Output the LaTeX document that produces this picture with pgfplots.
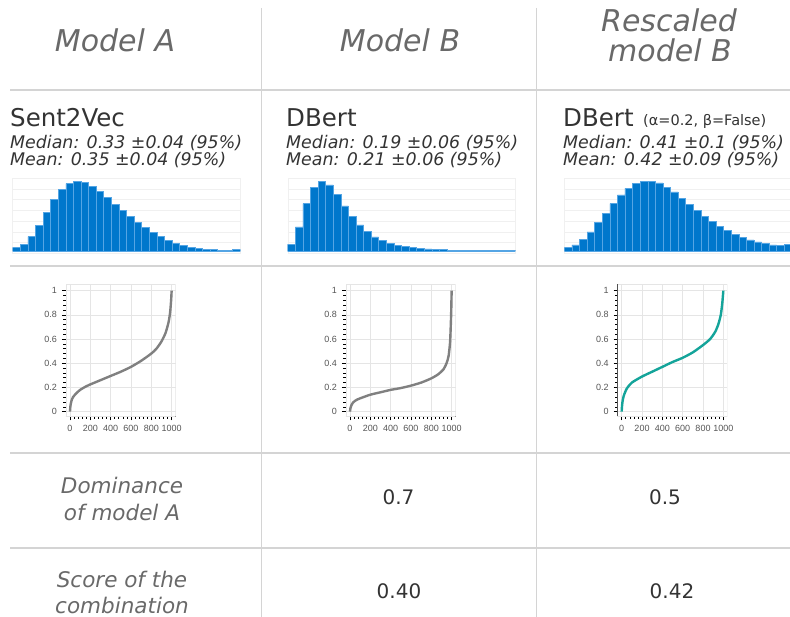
\documentclass[border=0pt]{standalone}
\usepackage{fontspec}
\setmainfont{DejaVu Sans}
\newfontfamily\arialf{Liberation Sans}
\usepackage{pgfplots}
\pgfplotsset{compat=1.18}
\definecolor{linegray}{RGB}{212,212,212}
\definecolor{hdrgray}{RGB}{105,105,105}
\definecolor{txt}{RGB}{51,51,51}
\definecolor{barblue}{RGB}{0,119,204}
\definecolor{baredge}{RGB}{85,165,228}
\definecolor{tealc}{RGB}{20,164,154}
\definecolor{curvegray}{RGB}{128,128,128}
\definecolor{gridc}{RGB}{229,229,229}
\definecolor{hgrid}{RGB}{240,240,240}
\definecolor{labgray}{RGB}{85,85,85}

\pgfplotsset{
  histo/.style={scale only axis, width=227.6pt, height=75pt,
    xmin=0, xmax=30, ymin=-0.033, ymax=1.043,
    axis line style={draw=hgrid},
    xtick=\empty, ytick={0.121,0.275,0.429,0.582,0.736,0.89},
    yticklabels={}, major tick length=0pt, ymajorgrids,
    major grid style={draw=hgrid, line width=0.6pt}},
  hbar/.style={ybar interval, fill=barblue, draw=baredge, line width=0.5pt},
  curve/.style={scale only axis, width=109.8pt, height=132.5pt,
    xmin=-40, xmax=1040, ymin=-0.04, ymax=1.055,
    axis lines*=left, axis line style={black, line width=0.8pt},
    xtick={0,200,...,1000}, ytick={0,0.2,0.4,0.6,0.8,1},
    minor tick num=4, tick align=outside,
    major tick length=4pt, minor tick length=2.5pt,
    tick style={black, line width=0.6pt},
    xmajorgrids, ymajorgrids, major grid style={draw=gridc, line width=0.6pt},
    tick label style={font=\arialf\fontsize{9}{10}\selectfont, text=labgray},
    xticklabel style={yshift=-1pt}, yticklabel style={xshift=-1.5pt},
    /pgf/number format/assume math mode=true,
    /pgf/number format/1000 sep={}},
}

\begin{document}
\begin{tikzpicture}[x=1pt,y=1pt]
\path[use as bounding box] (0,0) rectangle (790,617);

% table lines
\draw[linegray, line width=1.9pt] (261.5,609) -- (261.5,0);
\draw[linegray, line width=1.9pt] (536.5,609) -- (536.5,0);
\draw[linegray, line width=1.9pt] (10,527) -- (790,527);
\draw[linegray, line width=1.9pt] (10,351) -- (790,351);
\draw[linegray, line width=1.9pt] (10,164) -- (790,164);
\draw[linegray, line width=1.9pt] (10,69) -- (790,69);

% headers
\begin{scope}[every node/.style={inner sep=0pt, text=hdrgray, font=\itshape\fontsize{30}{36}\selectfont}]
\node[anchor=base] at (115,565.3) {Model A};
\node[anchor=base] at (400,565.3) {Model B};
\node[anchor=base] at (669,585) {Rescaled};
\node[anchor=base] at (670,555.3) {model B};
\end{scope}

% model names
\begin{scope}[every node/.style={inner sep=0pt, text=txt, anchor=base west}]
\node[font=\fontsize{24.5}{28}\selectfont] at (10,490.3) {Sent2Vec};
\node[font=\fontsize{24.5}{28}\selectfont] at (286,490.3) {DBert};
\node[font=\fontsize{24.5}{28}\selectfont] at (563,490.3) {DBert};
\node[font=\fontsize{14.5}{16}\selectfont] at (643,491) {(α=0.2, β=False)};
\node[font=\itshape\fontsize{17.4}{18}\selectfont] at (10,468.7) {Median: 0.33 ±0.04 (95\%)};
\node[font=\itshape\fontsize{17.4}{18}\selectfont] at (10,451) {Mean: 0.35 ±0.04 (95\%)};
\node[font=\itshape\fontsize{17.4}{18}\selectfont] at (286,468.7) {Median: 0.19 ±0.06 (95\%)};
\node[font=\itshape\fontsize{17.4}{18}\selectfont] at (286,451) {Mean: 0.21 ±0.06 (95\%)};
\node[font=\itshape\fontsize{17.4}{18}\selectfont] at (563,468.7) {Median: 0.41 ±0.1 (95\%)};
\node[font=\itshape\fontsize{17.4}{18}\selectfont] at (563,451) {Mean: 0.42 ±0.09 (95\%)};
\end{scope}

% row labels and values
\begin{scope}[every node/.style={inner sep=0pt, anchor=base}]
\node[text=hdrgray, font=\itshape\fontsize{21.5}{24}\selectfont] at (122,123.7) {Dominance};
\node[text=hdrgray, font=\itshape\fontsize{21.5}{24}\selectfont] at (122,96.3) {of model A};
\node[text=hdrgray, font=\itshape\fontsize{21.5}{24}\selectfont] at (122,29.7) {Score of the};
\node[text=hdrgray, font=\itshape\fontsize{21.5}{24}\selectfont] at (122,3.7) {combination};
\node[text=txt, font=\fontsize{20}{24}\selectfont] at (398.5,112) {0.7};
\node[text=txt, font=\fontsize{20}{24}\selectfont] at (665,112) {0.5};
\node[text=txt, font=\fontsize{20}{24}\selectfont] at (399,18.7) {0.40};
\node[text=txt, font=\fontsize{20}{24}\selectfont] at (672,18.7) {0.42};
\end{scope}

% histograms
\begin{axis}[histo, at={(12.7pt,363.7pt)}, anchor=south west]
\addplot[hbar] coordinates {(0,0.048) (1,0.096) (2,0.206) (3,0.364) (4,0.555) (5,0.742) (6,0.885) (7,0.967) (8,1.0) (9,0.986) (10,0.928) (11,0.852) (12,0.766) (13,0.670) (14,0.579) (15,0.493) (16,0.411) (17,0.335) (18,0.263) (19,0.206) (20,0.153) (21,0.110) (22,0.077) (23,0.053) (24,0.038) (25,0.024) (26,0.019) (27,0.014) (28,0.010) (29,0.019) (30,0)};
\end{axis}
\begin{axis}[histo, at={(287.7pt,363.7pt)}, anchor=south west]
\addplot[hbar] coordinates {(0,0.096) (1,0.346) (2,0.678) (3,0.913) (4,1.0) (5,0.947) (6,0.813) (7,0.649) (8,0.495) (9,0.375) (10,0.279) (11,0.202) (12,0.149) (13,0.111) (14,0.082) (15,0.0625) (16,0.048) (17,0.038) (18,0.029) (19,0.024) (20,0.019) (21,0.014) (22,0.010) (23,0.007) (24,0.007) (25,0.007) (26,0.007) (27,0.007) (28,0.007) (29,0.014) (30,0)};
\end{axis}
\begin{axis}[histo, at={(564.3pt,363.7pt)}, anchor=south west]
\addplot[hbar] coordinates {(0,0.048) (1,0.086) (2,0.163) (3,0.273) (4,0.411) (5,0.545) (6,0.679) (7,0.804) (8,0.900) (9,0.967) (10,1.0) (11,1.0) (12,0.976) (13,0.914) (14,0.847) (15,0.756) (16,0.670) (17,0.579) (18,0.498) (19,0.426) (20,0.354) (21,0.297) (22,0.239) (23,0.191) (24,0.158) (25,0.129) (26,0.105) (27,0.086) (28,0.077) (29,0.100) (30,0)};
\end{axis}

% sorted curves
\begin{axis}[curve, at={(65.9pt,200.5pt)}, anchor=south west]
\draw[gridc, line width=0.6pt] (rel axis cs:0,0) rectangle (rel axis cs:1,1);
\addplot[curvegray, line width=2.4pt, smooth, tension=0.4] coordinates {(0,0) (5,0.05) (15,0.09) (30,0.12) (60,0.15) (100,0.18) (150,0.205) (200,0.225) (300,0.26) (400,0.295) (500,0.33) (600,0.37) (700,0.42) (800,0.48) (850,0.52) (900,0.58) (940,0.65) (970,0.74) (985,0.82) (995,0.92) (1000,1.0)};
\end{axis}
\begin{axis}[curve, at={(345.9pt,200.5pt)}, anchor=south west]
\draw[gridc, line width=0.6pt] (rel axis cs:0,0) rectangle (rel axis cs:1,1);
\addplot[curvegray, line width=2.4pt, smooth, tension=0.4] coordinates {(0,0) (5,0.03) (15,0.055) (30,0.075) (60,0.095) (100,0.11) (200,0.14) (300,0.16) (400,0.18) (500,0.195) (600,0.215) (700,0.24) (800,0.275) (870,0.31) (920,0.35) (950,0.40) (970,0.46) (985,0.58) (995,0.8) (1000,1.0)};
\end{axis}
\begin{axis}[curve, at={(617.6pt,200.5pt)}, anchor=south west]
\draw[gridc, line width=0.6pt] (rel axis cs:0,0) rectangle (rel axis cs:1,1);
\addplot[tealc, line width=2.4pt, smooth, tension=0.4] coordinates {(0,0) (3,0.04) (8,0.08) (20,0.13) (50,0.19) (100,0.24) (200,0.29) (300,0.33) (400,0.37) (500,0.41) (600,0.445) (700,0.49) (800,0.55) (870,0.6) (920,0.66) (950,0.72) (975,0.8) (990,0.9) (1000,1.0)};
\end{axis}
\end{tikzpicture}
\end{document}
